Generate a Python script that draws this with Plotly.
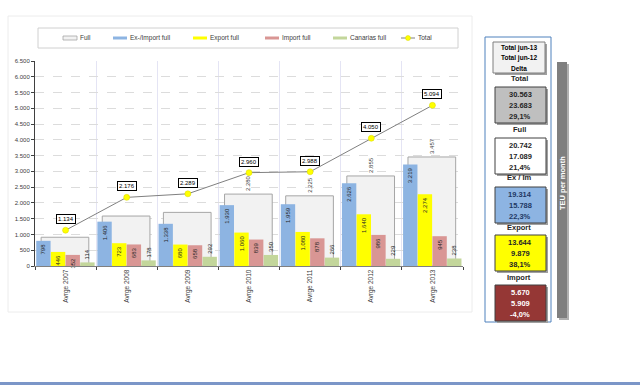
import plotly.graph_objects as go

categories = ["Avrge 2007", "Avrge 2008", "Avrge 2009", "Avrge 2010", "Avrge 2011", "Avrge 2012", "Avrge 2013"]
full_vals = [912, 1584, 1700, 2280, 2225, 2855, 3457]
full_label_show = [False, False, False, True, True, True, True]
eximport_vals = [798, 1406, 1338, 1930, 1959, 2626, 3219]
export_vals = [446, 723, 680, 1060, 1080, 1640, 2274]
import_vals = [352, 683, 658, 839, 878, 986, 945]
canarias_vals = [114, 178, 292, 350, 266, 229, 238]
total_vals = [1134, 2176, 2289, 2960, 2988, 4050, 5094]
y_ticks = list(range(0, 7000, 500))

series_names = ["Full", "Ex-/Import full", "Export full", "Import full", "Canarias full", "Total"]
series_colors = ["#f2f2f2", "#8db4e2", "#ffff00", "#d99694", "#c3d69b", "#808080"]

panel_header = ["Total jun-13", "Total jun-12", "Delta"]
panel_titles = ["Total", "Full", "Ex / Im", "Export", "Import"]
panel_jun13 = ["30.563", "20.742", "19.314", "13.644", "5.670"]
panel_jun12 = ["23.683", "17.089", "15.788", "9.879", "5.909"]
panel_delta = ["29,1%", "21,4%", "22,3%", "38,1%", "-4,0%"]
panel_fill = ["#bfbfbf", "#ffffff", "#8db4e2", "#ffff00", "#953735"]
panel_text = ["#262626", "#262626", "#1f3864", "#262626", "#ffffff"]


def fmt(v):
    return f"{v:,}".replace(",", ".")


# plot-area pixel geometry (for decoration only)
W, H = 640, 385
L, R, T, B = 35, 463, 61, 266


def px(x):
    return (x - L) / (R - L)


def py(y):
    return (B - y) / (B - T)


FONT = "Liberation Sans"
fig = go.Figure()

fig.add_trace(go.Bar(
    x=categories, y=full_vals, name=series_names[0],
    marker=dict(color=series_colors[0], line=dict(color="#a6a6a6", width=1)),
    width=0.78, offset=-0.40,
    text=[fmt(v) if s else "" for v, s in zip(full_vals, full_label_show)],
    textposition="outside", textangle=-90, textfont=dict(size=6, color="#404040"),
    cliponaxis=False,
))

bar_specs = [
    (eximport_vals, -0.48, "inside"),
    (export_vals, -0.24, "inside"),
    (import_vals, 0.0, "inside"),
    (canarias_vals, 0.24, "outside"),
]
for k, (vals, off, tpos) in enumerate(bar_specs, start=1):
    fig.add_trace(go.Bar(
        x=categories, y=vals, name=series_names[k],
        marker=dict(color=series_colors[k], line=dict(width=0)),
        width=0.235, offset=off,
        text=[fmt(v) for v in vals], textposition=tpos, insidetextanchor="end",
        textangle=-90, textfont=dict(size=6, color="#262626"),
        constraintext="none", cliponaxis=False,
    ))

fig.add_trace(go.Scatter(
    x=categories, y=total_vals, name=series_names[5], mode="lines+markers",
    line=dict(color=series_colors[5], width=1),
    marker=dict(color="#ffff00", size=6, line=dict(color="#d8d800", width=0.5)),
))

annotations = []
for c, v in zip(categories, total_vals):
    annotations.append(dict(
        x=c, y=v, xref="x", yref="y", text=fmt(v), showarrow=False,
        yshift=11, font=dict(size=6, color="#000000", family=FONT),
        bgcolor="#ffffff", bordercolor="#000000", borderwidth=1, borderpad=1,
    ))

shapes = []


def rect(x0, y0, x1, y1, fill, line_color=None, lw=1, layer="above"):
    shapes.append(dict(type="rect", xref="paper", yref="paper", x0=px(x0), x1=px(x1),
                       y0=py(y1), y1=py(y0), layer=layer,
                       line=dict(color=line_color, width=lw) if line_color else dict(width=0),
                       fillcolor=fill))


def txt(x, y, s, size=7, color="#262626", bold=True, angle=0, anchor="center"):
    annotations.append(dict(x=px(x), y=py(y), xref="paper", yref="paper", showarrow=False,
                            text=f"<b>{s}</b>" if bold else s, textangle=angle,
                            font=dict(size=size, color=color, family=FONT),
                            xanchor=anchor, yanchor="middle"))


# faint outer chart border
rect(8, 16, 472, 312, "rgba(0,0,0,0)", "#ececec", layer="below")
# bottom blue line
rect(0, 382, 640, 385, "#7b96c8")

# manual legend
rect(38, 28, 458, 48, "#ffffff", "#d0d0d0")
legend_x = [63, 113, 193, 265, 333, 401]
LY = 38
for k, name in enumerate(series_names):
    x0 = legend_x[k]
    if k == 0:
        rect(x0, LY - 2, x0 + 14, LY + 2, series_colors[0], "#a6a6a6", lw=0.8)
    elif k < 5:
        rect(x0, LY - 1.5, x0 + 14, LY + 1.5, series_colors[k])
    else:
        shapes.append(dict(type="line", xref="paper", yref="paper", x0=px(x0), x1=px(x0 + 14),
                           y0=py(LY), y1=py(LY), line=dict(color=series_colors[5], width=1)))
        shapes.append(dict(type="circle", xref="paper", yref="paper", x0=px(x0 + 4.5), x1=px(x0 + 9.5),
                           y0=py(LY + 2.5), y1=py(LY - 2.5), line=dict(color="#d8d800", width=0.5),
                           fillcolor="#ffff00"))
    txt(x0 + 15, LY, name, size=6.5, color="#404040", bold=False, anchor="left")

# right panel outer frame
rect(485, 37, 551, 322, "#ffffff", "#4f81bd")


def box(x0, y0, x1, y1, fill, border="#404040"):
    rect(x0 + 2, y0 + 2, x1 + 2, y1 + 2, "#a0a0a0")
    rect(x0, y0, x1, y1, fill, border)


# header box
box(493, 42, 545, 73, "#f2f2f2", "#7f7f7f")
for i, s in enumerate(panel_header):
    txt(519, 48 + i * 10, s, size=6.5, color="#000000")

box_tops = [87, 138, 187, 235, 285]
title_ys = [78, 129, 177, 227, 277]
for i in range(5):
    txt(519, title_ys[i], panel_titles[i], size=7.5, color="#262626")
    y0 = box_tops[i]
    box(495, y0, 546, y0 + 36, panel_fill[i], "#404040")
    for j, s in enumerate([panel_jun13[i], panel_jun12[i], panel_delta[i]]):
        txt(520, y0 + 7 + j * 11, s, size=7.5, color=panel_text[i])

# gray vertical bar
rect(559, 64, 569, 320, "#b0b0b0")
rect(557, 62, 567, 318, "#7f7f7f")
txt(562, 183, "TEU per month", size=7.5, color="#ffffff", angle=-90)

fig.update_layout(
    width=W, height=H,
    margin=dict(l=L, r=W - R, t=T, b=H - B, autoexpand=False),
    paper_bgcolor="#ffffff", plot_bgcolor="#ffffff",
    barmode="overlay", separators=",.",
    font=dict(family=FONT, size=7, color="#404040"),
    showlegend=False,
    xaxis=dict(type="category", tickson="boundaries", ticks="outside", ticklen=3,
               tickangle=-90, tickfont=dict(size=6.5, color="#404040"),
               showgrid=True, gridcolor="#e4e4f4", gridwidth=1,
               showline=True, linecolor="#808080", linewidth=1,
               range=[-0.5, 6.5]),
    yaxis=dict(range=[0, 6500], tickvals=y_ticks, tickformat=",d",
               ticks="outside", ticklen=3, tickcolor="#404040",
               tickfont=dict(size=6, color="#404040"),
               showgrid=True, gridcolor="#dcdcdc", griddash="dash", gridwidth=1,
               showline=True, linecolor="#404040", linewidth=1, zeroline=False),
    shapes=shapes, annotations=annotations,
)

fig.write_html("out.html", config={"displayModeBar": False},
               post_script="document.body.style.margin='0';document.body.style.overflow='hidden';")
